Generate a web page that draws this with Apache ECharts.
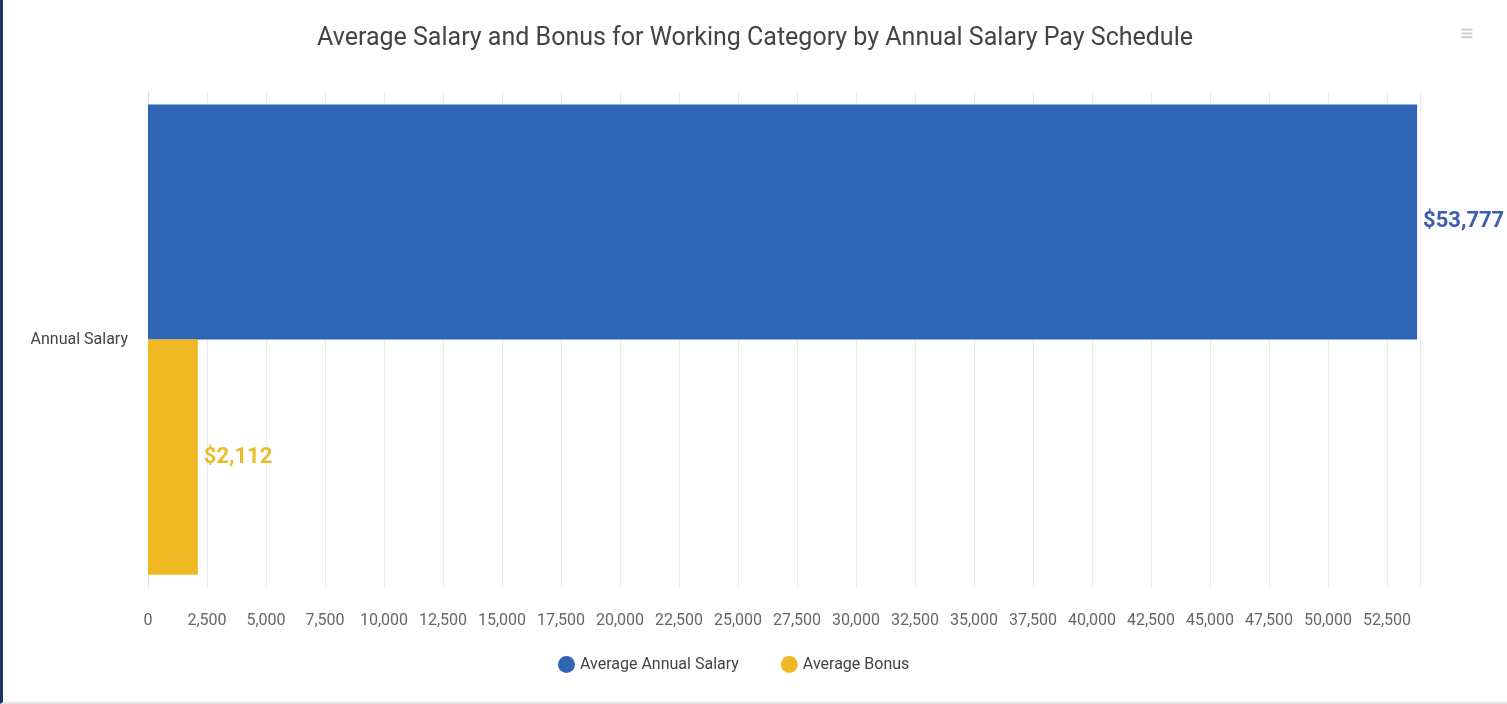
<!DOCTYPE html>
<html>
<head>
<meta charset="utf-8">
<script src="https://cdn.jsdelivr.net/npm/echarts@6/dist/echarts.min.js"></script>
<style>
html,body{margin:0;padding:0;background:#fff;}
#chart{width:1507px;height:704px;box-sizing:border-box;border-left:3px solid #1d3461;border-bottom:2px solid #e4e4e4;}
</style>
</head>
<body>
<div id="chart"></div>
<script>
const categories = ['Annual Salary'];
const seriesNames = ['Average Annual Salary', 'Average Bonus'];
const salaryValues = [53777];
const bonusValues = [2112];

const chart = echarts.init(document.getElementById('chart'));
const fmt = v => '$' + v.toLocaleString('en-US');
chart.setOption({
  animation: false,
  textStyle: {fontFamily: 'Roboto'},
  title: {
    text: 'Average Salary and Bonus for Working Category by Annual Salary Pay Schedule',
    left: 'center', top: 21,
    textStyle: {fontFamily: 'Roboto', fontSize: 25, fontWeight: 'normal', color: '#444'}
  },
  toolbox: {
    right: 17, top: 12, itemSize: 11,
    feature: {
      myMenu: {
        show: true, title: '',
        icon: 'path://M0,2L14,2M0,7L14,7M0,12L14,12',
        onclick: function(){}
      }
    },
    iconStyle: {borderColor: '#cfcfcf', borderWidth: 2}
  },
  legend: {
    top: 651, left: 550, icon: 'circle', itemWidth: 17, itemHeight: 17, itemGap: 42,
    textStyle: {fontSize: 16, color: '#444'},
    data: seriesNames
  },
  grid: {left: 145, right: 87, top: 92, bottom: 115},
  xAxis: {
    type: 'value', min: 0, max: 53900, interval: 2500,
    axisLabel: {showMaxLabel: false, fontSize: 16, color: '#666', margin: 26,
      formatter: v => v.toLocaleString('en-US')},
    splitLine: {lineStyle: {color: '#ececec'}},
    axisLine: {show: false}, axisTick: {show: false}
  },
  yAxis: {
    type: 'category', inverse: true, data: categories,
    axisLabel: {fontSize: 16, color: '#444', margin: 20},
    axisLine: {lineStyle: {color: '#ddd'}}, axisTick: {show: false}
  },
  series: [
    {
      name: seriesNames[0], type: 'bar', data: salaryValues,
      barGap: '0%', barCategoryGap: '5%',
      itemStyle: {color: '#2f65b4'},
      label: {show: true, position: 'right', distance: 6, fontSize: 22, fontWeight: 'bold', color: '#3d5db0',
        formatter: p => fmt(p.value)}
    },
    {
      name: seriesNames[1], type: 'bar', data: bonusValues,
      itemStyle: {color: '#f0b823'},
      label: {show: true, position: 'right', distance: 6, fontSize: 22, fontWeight: 'bold', color: '#e8bc2c',
        formatter: p => fmt(p.value)}
    }
  ]
});
</script>
</body>
</html>
